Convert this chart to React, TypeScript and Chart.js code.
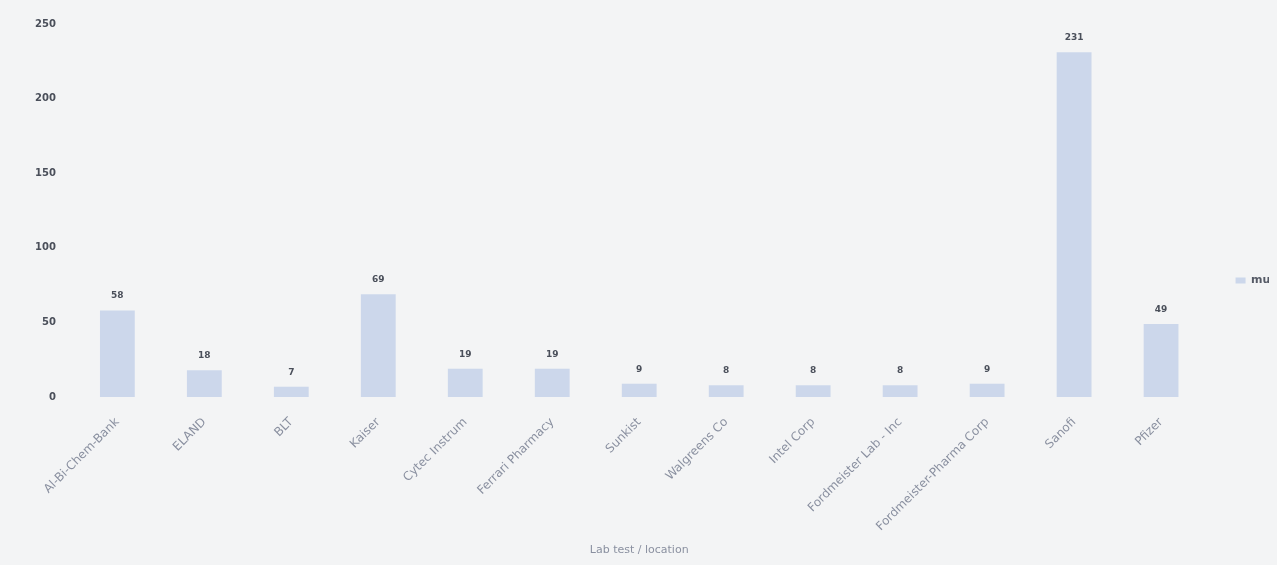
import React, { useEffect, useRef } from "react";
import { Chart, registerables } from "chart.js";

Chart.register(...registerables);

const categories = [
  "Al-Bi-Chem-Bank",
  "ELAND",
  "BLT",
  "Kaiser",
  "Cytec Instrum",
  "Ferrari Pharmacy",
  "Sunkist",
  "Walgreens Co",
  "Intel Corp",
  "Fordmeister Lab - Inc",
  "Fordmeister-Pharma Corp",
  "Sanofi",
  "Pfizer",
];
const values = [58, 18, 7, 69, 19, 19, 9, 8, 8, 8, 9, 231, 49];
const seriesLabel = "mutations";
const xTitle = "Lab test / location";
const yTicks = [0, 50, 100, 150, 200, 250];

const valueLabels = {
  id: "valueLabels",
  afterDatasetsDraw(chart: any) {
    const ctx = chart.ctx;
    const meta = chart.getDatasetMeta(0);
    ctx.save();
    ctx.font = "bold 9px 'DejaVu Sans', sans-serif";
    ctx.fillStyle = "#4a4f5a";
    ctx.textAlign = "center";
    ctx.textBaseline = "bottom";
    meta.data.forEach((bar: any, i: number) => {
      ctx.fillText(String(values[i]), bar.x, bar.y - 10);
    });
    ctx.restore();
  },
};

export default function App() {
  const ref = useRef<HTMLCanvasElement | null>(null);
  useEffect(() => {
    document.body.style.background = "#f3f4f5";
    document.body.style.overflow = "hidden";
    document.documentElement.style.overflow = "hidden";
    if (!ref.current) return;
    const chart = new Chart(ref.current, {
      type: "bar",
      data: {
        labels: categories,
        datasets: [
          {
            label: seriesLabel,
            data: values,
            backgroundColor: "rgba(200,212,234,0.9)",
            borderWidth: 0,
            barPercentage: 0.5,
            categoryPercentage: 0.8,
          },
        ],
      },
      options: {
        animation: false,
        responsive: true,
        maintainAspectRatio: false,
        layout: { padding: { left: 17, top: -8, right: 14, bottom: 4 } },
        plugins: {
          legend: {
            position: "right",
            labels: {
              boxWidth: 10,
              boxHeight: 6,
              padding: 31,
              color: "#555a66",
              font: { family: "'DejaVu Sans', sans-serif", size: 11, weight: "bold" },
            },
          },
          tooltip: { enabled: false },
        },
        scales: {
          x: {
            grid: { display: false },
            border: { display: false },
            ticks: {
              color: "#8a90a0",
              maxRotation: 45,
              minRotation: 45,
              padding: 10,
              font: { family: "'DejaVu Sans', sans-serif", size: 12 },
            },
            title: {
              display: true,
              text: xTitle,
              color: "#8a90a0",
              padding: { top: 0, bottom: 4 },
              font: { family: "'DejaVu Sans', sans-serif", size: 11 },
            },
          },
          y: {
            min: 0,
            max: 250,
            grid: { display: false },
            border: { display: false },
            afterBuildTicks: (axis: any) => {
              axis.ticks = yTicks.map((v) => ({ value: v }));
            },
            ticks: {
              color: "#4a4f5a",
              padding: 10,
              font: { family: "'DejaVu Sans', sans-serif", size: 10, weight: "bold" },
            },
          },
        },
      },
      plugins: [valueLabels],
    });
    return () => chart.destroy();
  }, []);
  return (
    <div style={{ width: 1330, height: 557, position: "relative" }}>
      <canvas ref={ref} />
    </div>
  );
}
